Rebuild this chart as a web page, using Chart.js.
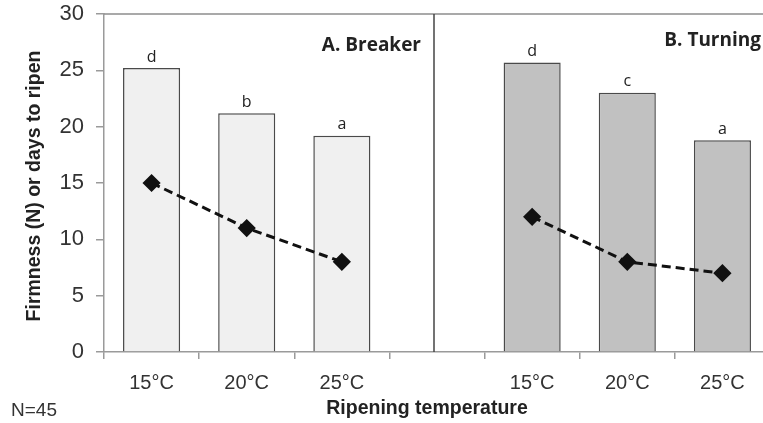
<!DOCTYPE html>
<html>
<head>
<meta charset="utf-8">
<script src="https://cdn.jsdelivr.net/npm/chart.js@4"></script>
<style>
  html, body { margin: 0; padding: 0; background: #fff; overflow: hidden; }
  #wrap { position: absolute; left: 0; top: 0; width: 780px; height: 423px; }
</style>
</head>
<body>
<div id="wrap"><canvas id="ripenChart" width="780" height="423"></canvas></div>
<script>
const categories = ['15°C', '20°C', '25°C', '', '15°C', '20°C', '25°C'];
const firmness = [25.2, 21.2, 19.2, null, 25.7, 23.0, 18.8];
const daysToRipen = [15, 11, 8, null, 12, 8, 7];
const letters = ['d', 'b', 'a', '', 'd', 'c', 'a'];
const panelLabels = ['A. Breaker', 'B. Turning'];
const yTicks = [0, 5, 10, 15, 20, 25, 30];

document.addEventListener("DOMContentLoaded", function(){
    const sans = '"Liberation Sans", Arial, sans-serif';
    const calibriLike = '"Open Sans", "Noto Sans", sans-serif';

    // extra drawing: frame, divider, letters, panel names, titles
    const extras = {
        id: 'extras',
        afterDatasetsDraw(chart) {
            const ctx = chart.ctx;
            const area = chart.chartArea;
            const x = chart.scales.x;
            const y = chart.scales.y;
            ctx.save();

            // top border
            ctx.strokeStyle = '#8c8c8c';
            ctx.lineWidth = 1.5;
            ctx.beginPath();
            ctx.moveTo(area.left, area.top);
            ctx.lineTo(area.right, area.top);
            ctx.stroke();

            // divider between panels
            const divX = x.getPixelForValue(3) - 3;
            ctx.strokeStyle = '#444';
            ctx.lineWidth = 1.5;
            ctx.beginPath();
            ctx.moveTo(divX, area.top);
            ctx.lineTo(divX, area.bottom);
            ctx.stroke();

            // significance letters
            ctx.fillStyle = '#222';
            ctx.font = '16px ' + calibriLike;
            ctx.textAlign = 'center';
            ctx.textBaseline = 'bottom';
            firmness.forEach((v, i) => {
                if (v === null || !letters[i]) return;
                ctx.fillText(letters[i], x.getPixelForValue(i), y.getPixelForValue(v) - 3);
            });

            // panel names
            ctx.font = 'bold 19px ' + calibriLike;
            ctx.textAlign = 'right';
            ctx.textBaseline = 'middle';
            ctx.fillText(panelLabels[0], 421, 46);
            ctx.fillText(panelLabels[1], 761, 41);

            // axis titles
            ctx.fillStyle = '#222';
            ctx.font = 'bold 19.5px ' + sans;
            ctx.textAlign = 'center';
            ctx.fillText('Ripening temperature', 427, 409);
            ctx.save();
            ctx.translate(35, 186);
            ctx.rotate(-Math.PI / 2);
            ctx.fillText('Firmness (N) or days to ripen', 0, 0);
            ctx.restore();

            // sample size
            ctx.font = '19px ' + sans;
            ctx.textAlign = 'left';
            ctx.fillStyle = '#333';
            ctx.fillText('N=45', 11, 411);

            ctx.restore();
        }
    };

    const ctx = document.getElementById('ripenChart').getContext('2d');
    new Chart(ctx, {
        type: 'bar',
        data: {
            labels: categories,
            datasets: [
                {
                    type: 'line',
                    label: 'Days to ripen',
                    data: daysToRipen,
                    borderColor: '#111',
                    borderWidth: 3,
                    borderDash: [9, 5],
                    pointStyle: 'rectRot',
                    pointRadius: 7,
                    pointBackgroundColor: '#111',
                    pointBorderColor: '#111',
                    spanGaps: false,
                    tension: 0,
                    order: 0
                },
                {
                    type: 'bar',
                    label: 'Firmness',
                    data: firmness,
                    backgroundColor: categories.map((c, i) => i < 3 ? '#f0f0f0' : '#c1c1c1'),
                    borderColor: '#4a4a4a',
                    borderWidth: 1.5,
                    barPercentage: 0.6,
                    categoryPercentage: 1.0,
                    order: 1
                }
            ]
        },
        options: {
            responsive: false,
            animation: false,
            layout: { padding: { top: 14, right: 0, left: 0, bottom: 0 } },
            plugins: {
                legend: { display: false },
                tooltip: { enabled: false },
                title: { display: false }
            },
            scales: {
                x: {
                    offset: true,
                    grid: {
                        offset: true,
                        drawOnChartArea: false,
                        drawTicks: true,
                        tickLength: 7,
                        color: '#9a9a9a',
                        lineWidth: 1.5
                    },
                    border: { color: '#9a9a9a', width: 1.5 },
                    ticks: {
                        color: '#333',
                        font: { family: sans, size: 20 },
                        padding: 12,
                        maxRotation: 0,
                        autoSkip: false
                    },
                    afterFit: function(scale) {
                        scale.height = 71;
                        scale.paddingLeft = 0;
                        scale.paddingRight = 0;
                    }
                },
                y: {
                    min: 0,
                    max: 30,
                    afterBuildTicks: function(scale) {
                        scale.ticks = yTicks.map(v => ({ value: v }));
                    },
                    grid: {
                        drawOnChartArea: false,
                        drawTicks: true,
                        tickLength: 8,
                        color: '#9a9a9a',
                        lineWidth: 1.5
                    },
                    border: { color: '#9a9a9a', width: 1.5 },
                    ticks: {
                        color: '#333',
                        font: { family: sans, size: 22 },
                        padding: 12
                    },
                    afterFit: function(scale) {
                        scale.width = 104;
                        scale.paddingTop = 0;
                        scale.paddingBottom = 0;
                    }
                }
            }
        },
        plugins: [extras]
    });
});
</script>
</body>
</html>
